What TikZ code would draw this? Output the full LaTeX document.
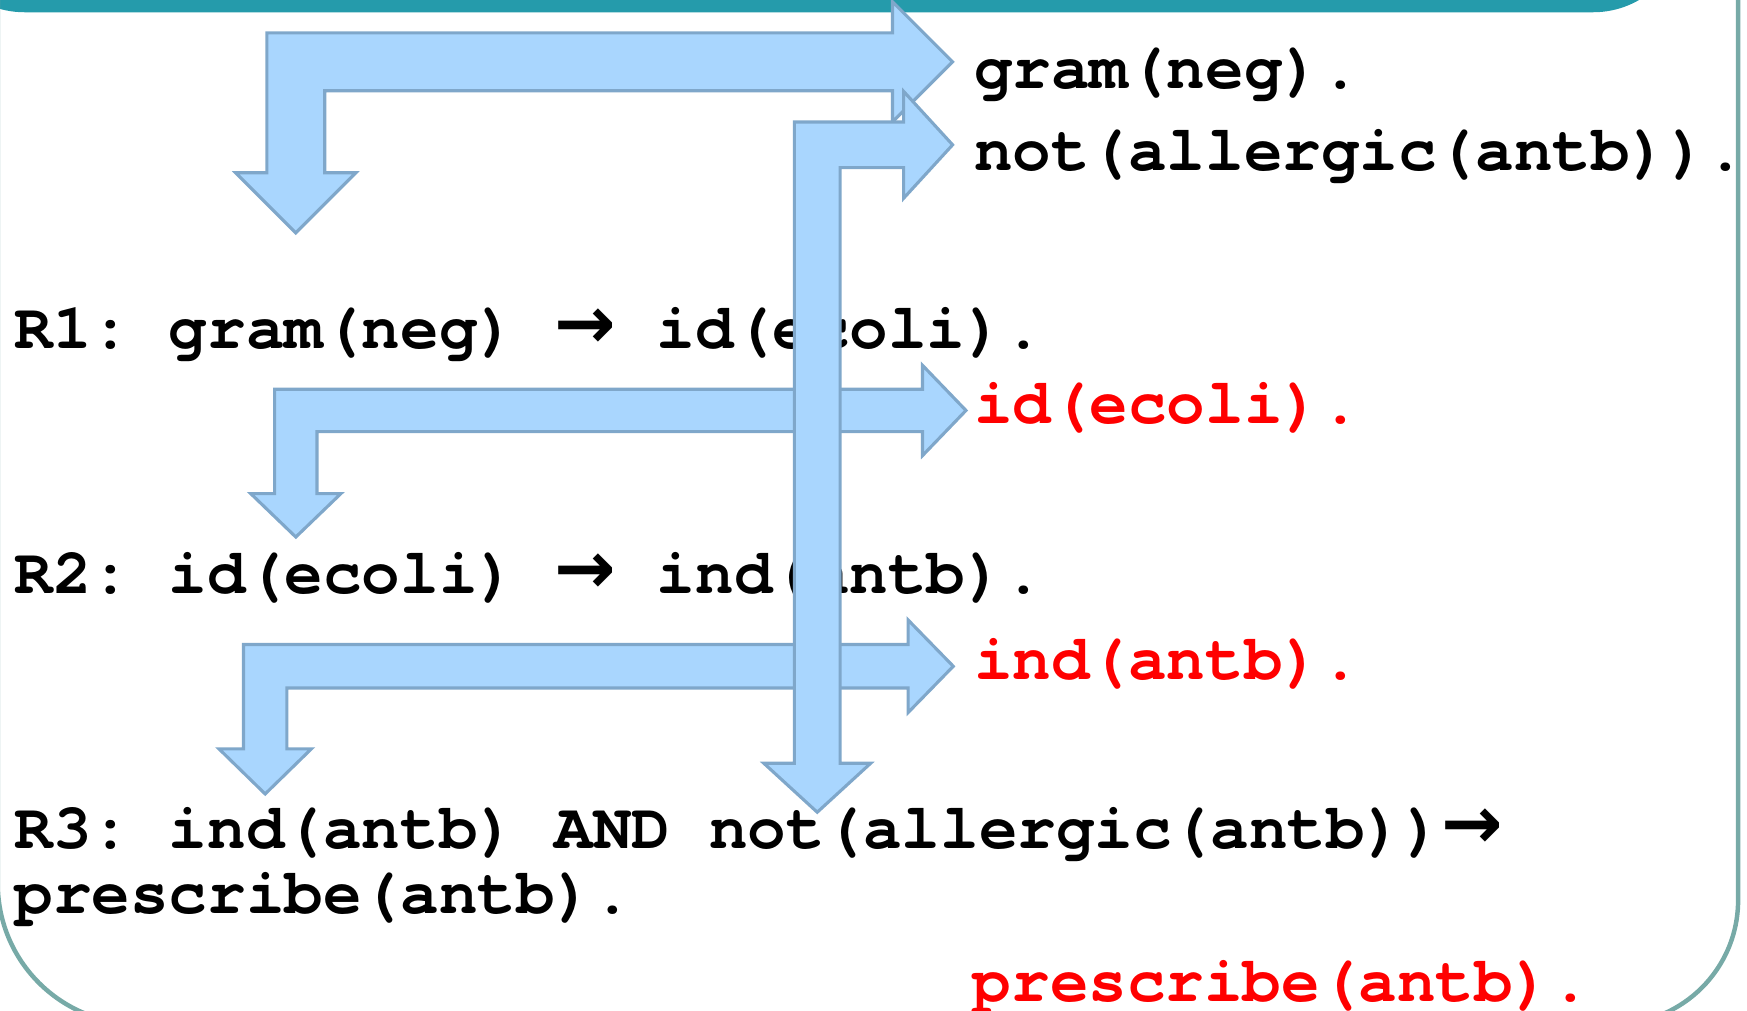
\documentclass[tikz,border=0pt]{standalone}
\usepackage{fontspec}
\usepackage{tikz}
\newfontfamily\codefont{texgyrecursor}[Extension=.otf, UprightFont=*-regular, BoldFont=*-bold]
\newfontfamily\arrowfont{DejaVu Sans}
\newcommand{\ruleto}{\makebox[0.99em][l]{\arrowfont\fontsize{66}{66}\selectfont →}}
\definecolor{barteal}{HTML}{259BAB}
\definecolor{frameteal}{HTML}{77AAA7}
\definecolor{arrowfill}{HTML}{A9D6FE}
\definecolor{arrowedge}{HTML}{7FA7CA}
\tikzset{
  fact/.style={inner sep=0, anchor=base west, font=\codefont\bfseries\fontsize{57.7}{57.7}\selectfont\frenchspacing},
  derived/.style={fact, text=red},
  block/.style={fill=arrowfill, draw=arrowedge, line width=2.8pt, line join=miter}}
% bent block arrow: corner x, corner y, right tip x, down tip y, half bar, half head, head length
\newcommand{\elbowarrow}[7]{
  \draw[block] (#3,#2) -- ({#3-#7},{#2-#6}) -- ({#3-#7},{#2-#5}) -- ({#1-#5},{#2-#5})
    -- ({#1-#5},{#4-#7}) -- ({#1-#6},{#4-#7}) -- (#1,#4) -- ({#1+#6},{#4-#7})
    -- ({#1+#5},{#4-#7}) -- ({#1+#5},{#2+#5}) -- ({#3-#7},{#2+#5}) -- ({#3-#7},{#2+#6}) -- cycle;}

\begin{document}
\begin{tikzpicture}[x=1pt, y=-1pt]
	\useasboundingbox (0,0) rectangle (1568,907);
	\clip (0,0) rectangle (1568,907);
	\fill[barteal, rounded corners=82] (-60,-200) rectangle (1512,11);
	\draw[frameteal, line width=4pt] (-2,-20) -- (-2,793) arc[start angle=180, end angle=90, radius=126]
		-- (1449,919) arc[start angle=90, end angle=0, radius=111] -- (1560,-20);

	\node[fact] (g) at (874,79.3) {gram(neg).};
	\node[fact] (na) at (874,152.6) {not(allergic(antb)).};
	\node[fact] (r1) at (13,313) {R1: gram(neg) \ruleto{} id(ecoli).};
	\node[derived] (id) at (874,380) {id(ecoli).};
	\node[fact] (r2) at (13,532.5) {R2: id(ecoli) \ruleto{} ind(antb).};
	\node[derived] (ind) at (874,610.3) {ind(antb).};
	\node[fact] (r3) at (13,761.4) {R3: ind(antb) AND not(allergic(antb))\ruleto};
	\node[fact] (r3b) at (13,819.7) {prescribe(antb).};
	\node[derived] (pr) at (873,899) {prescribe(antb).};

	\elbowarrow{265.5}{55.5}{855}{209}{26}{54}{54}
	\elbowarrow{265.5}{368.4}{867}{482}{19}{40.5}{39}
	\elbowarrow{238}{598}{855.6}{712.6}{19.5}{41.5}{40.5}
	\elbowarrow{733.5}{130}{855}{729}{20.5}{48}{44}
\end{tikzpicture}
\end{document}
